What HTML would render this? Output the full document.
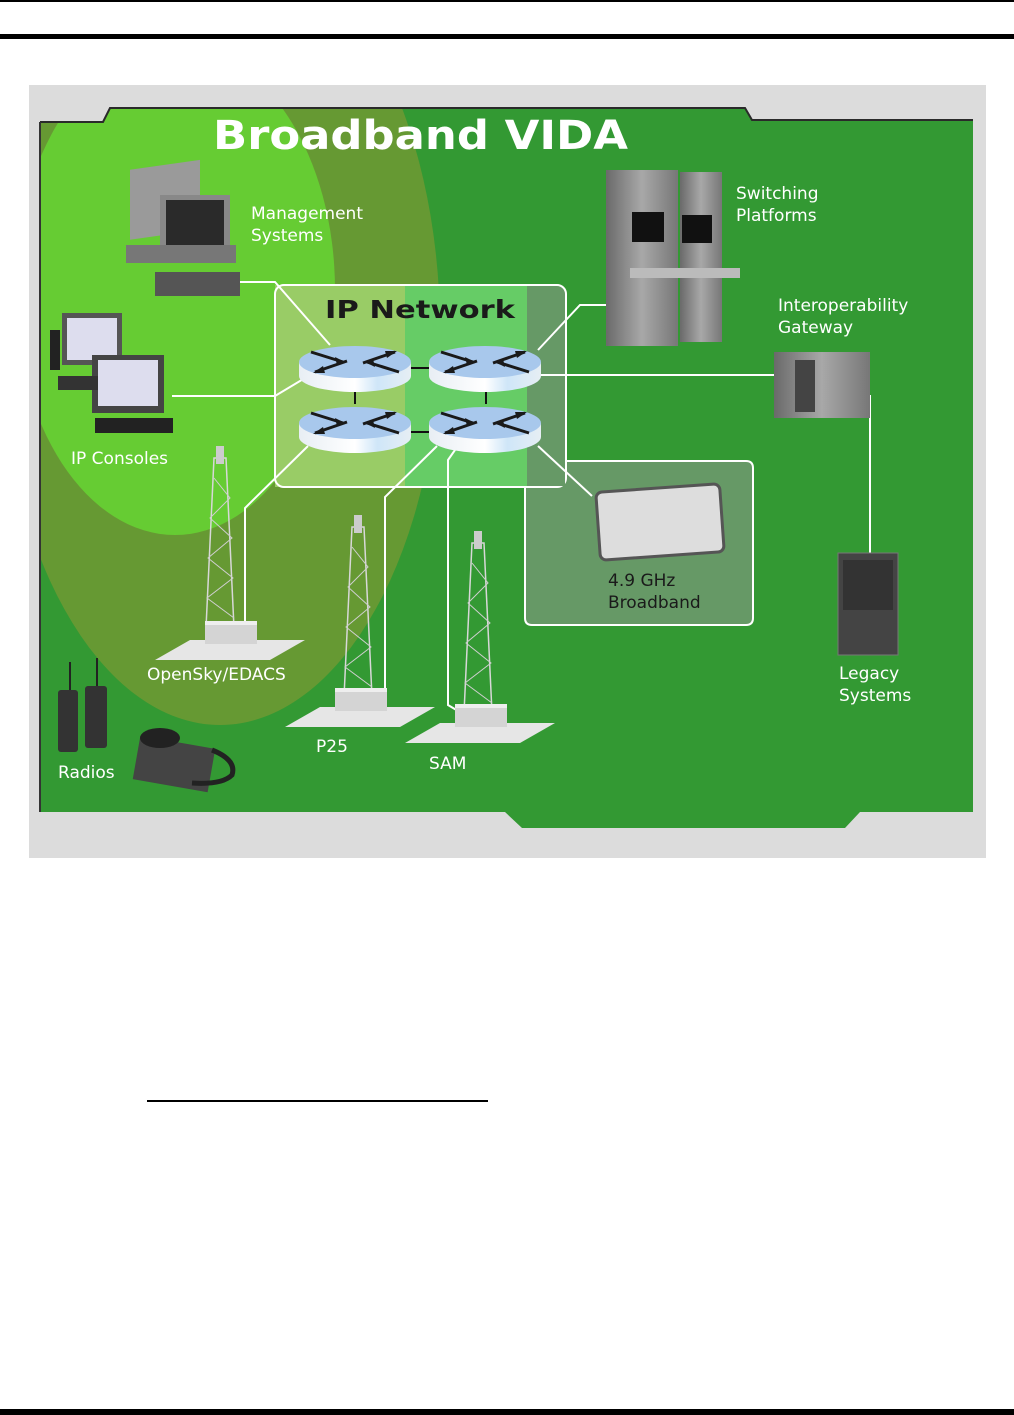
<!DOCTYPE html>
<html><head><meta charset="utf-8"><style>
html,body{margin:0;padding:0;background:#fff;}
body{width:1014px;height:1415px;position:relative;overflow:hidden;}
svg{position:absolute;left:0;top:0;}
</style></head><body>
<svg width="1014" height="1415" viewBox="0 0 1014 1415" xmlns="http://www.w3.org/2000/svg" font-family="'Liberation Sans', sans-serif">
<defs>
<clipPath id="gc"><path d="M40,122 L103,122 L110,108 L745,108 L752,120 L973,120 L973,812 L860,812 L845,828 L522,828 L505,812 L40,812 Z"/></clipPath>
<linearGradient id="rs" x1="0" x2="1"><stop offset="0" stop-color="#e8eef4"/><stop offset="0.5" stop-color="#ffffff"/><stop offset="0.7" stop-color="#cfe6f8"/><stop offset="1" stop-color="#e6eef4"/></linearGradient>
<linearGradient id="gr" x1="0" x2="1"><stop offset="0" stop-color="#6a6a6a"/><stop offset="0.5" stop-color="#a8a8a8"/><stop offset="1" stop-color="#777"/></linearGradient>
<g id="router">
<path d="M-56,0 L-56,14 A56,16 0 0 0 56,14 L56,0 Z" fill="url(#rs)"/>
<ellipse cx="0" cy="0" rx="56" ry="16" fill="#a8c8ec"/>
<g stroke="#1a1a1a" stroke-width="3" fill="none">
<path d="M-44,-10 L-12,0"/><path d="M44,10 L12,0"/><path d="M-40,10 L-8,-1"/><path d="M40,-10 L8,1"/>
</g>
<g fill="#1a1a1a"><path d="M-10,0 L-20,-5 L-18,3 Z"/><path d="M10,0 L20,5 L18,-3 Z"/><path d="M-42,11 L-32,4 L-30,11 Z"/><path d="M42,-11 L32,-4 L30,-11 Z"/></g>
</g>
<g id="tower">
<path d="M-6,0 L6,0 L14,170 L-14,170 Z" fill="none" stroke="#d8d8d8" stroke-width="1.5"/>
<path d="M-6,20 L10,40 L-10,60 L12,80 L-12,100 L13,120 L-13,140 L14,160" fill="none" stroke="#cfcfcf" stroke-width="1"/>
<rect x="-4" y="-12" width="8" height="18" fill="#ccc"/>
</g>
<g id="shelter">
<path d="M-75,30 L-40,10 L75,10 L40,30 Z" fill="#e6e6e6"/>
<rect x="-25" y="-6" width="52" height="20" fill="#d4d4d4"/>
<rect x="-25" y="-9" width="52" height="4" fill="#eee"/>
</g>
</defs>
<rect x="0" y="0" width="1014" height="2" fill="#000"/>
<rect x="0" y="34" width="1014" height="5" fill="#000"/>
<rect x="29" y="85" width="957" height="773" fill="#dcdcdc"/>
<g clip-path="url(#gc)">
<rect x="30" y="100" width="960" height="740" fill="#339933"/>
<ellipse cx="220" cy="330" rx="220" ry="395" fill="#669933"/>
<ellipse cx="175" cy="290" rx="160" ry="245" fill="#66cc33"/>
</g>
<path d="M40,122 L103,122 L110,108 L745,108 L752,120 L973,120" fill="none" stroke="#2a2a2a" stroke-width="2"/>
<line x1="40" y1="122" x2="40" y2="812" stroke="#333" stroke-width="2"/>
<path d="M525,487 L525,618 Q525,625 532,625 L746,625 Q753,625 753,618 L753,468 Q753,461 746,461 L566,461" fill="#669966" stroke="#fff" stroke-width="2"/>
<rect x="275" y="285" width="130" height="202" fill="#99cc66"/>
<rect x="405" y="285" width="122" height="202" fill="#66cc66"/>
<path d="M527,285 L558,285 Q566,285 566,293 L566,487 L527,487 Z" fill="#669966"/>
<rect x="275" y="285" width="291" height="202" rx="9" fill="none" stroke="#fff" stroke-width="2"/>
<rect x="527" y="462" width="38" height="24" fill="#669966"/>
<path d="M566,455 L566,461 L746,461" fill="none" stroke="#fff" stroke-width="2"/>
<path d="M525,487 L525,618" stroke="#fff" stroke-width="2"/>
<g stroke="#fff" stroke-width="2" fill="none">
<path d="M238,282 L275,282 L330,345"/>
<path d="M172,396 L275,396 L305,378"/>
<path d="M538,350 L580,305 L610,305"/>
<path d="M540,375 L775,375"/>
<path d="M870,395 L870,553"/>
<path d="M308,446 L245,508 L245,625"/>
<path d="M437,446 L385,497 L385,695"/>
<path d="M455,450 L448,460 L448,705 L470,718"/>
<path d="M538,446 L592,496"/>
</g>
<g stroke="#111" stroke-width="2"><line x1="411" y1="368" x2="429" y2="368"/><line x1="411" y1="432" x2="429" y2="432"/><line x1="355" y1="388" x2="355" y2="404"/><line x1="486" y1="388" x2="486" y2="404"/></g>
<use href="#router" x="355" y="362"/><use href="#router" x="485" y="362"/>
<use href="#router" x="355" y="423"/><use href="#router" x="485" y="423"/>
<text x="213" y="149" font-size="40" font-weight="bold" fill="#fff" font-family="'DejaVu Sans', sans-serif" textLength="415" lengthAdjust="spacingAndGlyphs">Broadband VIDA</text>
<text x="325" y="318" font-size="25" font-weight="bold" fill="#1a1a1a" font-family="'DejaVu Sans', sans-serif" textLength="190" lengthAdjust="spacingAndGlyphs">IP Network</text>
<g fill="#fff" font-size="17" font-family="'DejaVu Sans', sans-serif">
<text x="251" y="219">Management</text><text x="251" y="241">Systems</text>
<text x="736" y="199">Switching</text><text x="736" y="221">Platforms</text>
<text x="778" y="311">Interoperability</text><text x="778" y="333">Gateway</text>
<text x="71" y="464">IP Consoles</text>
<text x="608" y="586" fill="#1a1a1a">4.9 GHz</text><text x="608" y="608" fill="#1a1a1a">Broadband</text>
<text x="147" y="680">OpenSky/EDACS</text>
<text x="839" y="679">Legacy</text><text x="839" y="701">Systems</text>
<text x="316" y="752">P25</text>
<text x="429" y="769">SAM</text>
<text x="58" y="778">Radios</text>
</g>
<rect x="130" y="170" width="70" height="70" fill="#9a9a9a" transform="skewY(-8) translate(0,18)"/>
<rect x="160" y="195" width="70" height="62" fill="#888"/><rect x="166" y="200" width="58" height="50" fill="#2a2a2a"/>
<rect x="126" y="245" width="110" height="18" fill="#777"/>
<rect x="155" y="272" width="85" height="24" fill="#555"/>
<rect x="62" y="313" width="60" height="52" fill="#555"/><rect x="67" y="318" width="50" height="42" fill="#dde"/>
<rect x="92" y="355" width="72" height="58" fill="#444"/><rect x="98" y="360" width="60" height="46" fill="#dde"/>
<rect x="95" y="418" width="78" height="15" fill="#222"/><rect x="50" y="330" width="10" height="40" fill="#222"/><rect x="58" y="376" width="40" height="14" fill="#333"/>
<rect x="606" y="170" width="72" height="176" fill="url(#gr)"/>
<rect x="680" y="172" width="42" height="170" fill="url(#gr)"/>
<rect x="632" y="212" width="32" height="30" fill="#111"/><rect x="682" y="215" width="30" height="28" fill="#111"/>
<rect x="630" y="268" width="110" height="10" fill="#bbb"/>
<rect x="774" y="352" width="96" height="66" fill="url(#gr)"/>
<rect x="795" y="360" width="20" height="52" fill="#444"/>
<rect x="598" y="488" width="124" height="68" rx="6" fill="#ddd" stroke="#555" stroke-width="3" transform="rotate(-4 660 522)"/>
<rect x="838" y="553" width="60" height="102" fill="#444" stroke="#777"/>
<rect x="843" y="560" width="50" height="50" fill="#333"/>
<use href="#tower" x="220" y="458"/><use href="#shelter" x="230" y="630"/>
<use href="#tower" x="358" y="527"/><use href="#shelter" x="360" y="697"/>
<use href="#tower" x="478" y="543"/><use href="#shelter" x="480" y="713"/>
<rect x="58" y="690" width="20" height="62" rx="3" fill="#333"/><rect x="85" y="686" width="22" height="62" rx="3" fill="#333"/>
<line x1="70" y1="662" x2="70" y2="690" stroke="#222" stroke-width="2"/><line x1="97" y1="658" x2="97" y2="686" stroke="#222" stroke-width="2"/>
<rect x="136" y="742" width="76" height="44" fill="#444" transform="rotate(10 174 764)"/>
<ellipse cx="160" cy="738" rx="20" ry="10" fill="#222"/>
<path d="M212,750 q25,10 20,25 q-10,10 -40,8" fill="none" stroke="#222" stroke-width="5"/>
<line x1="147" y1="1101" x2="488" y2="1101" stroke="#000" stroke-width="2"/>
<rect x="0" y="1409" width="1014" height="6" fill="#000"/>
</svg>
</body></html>
